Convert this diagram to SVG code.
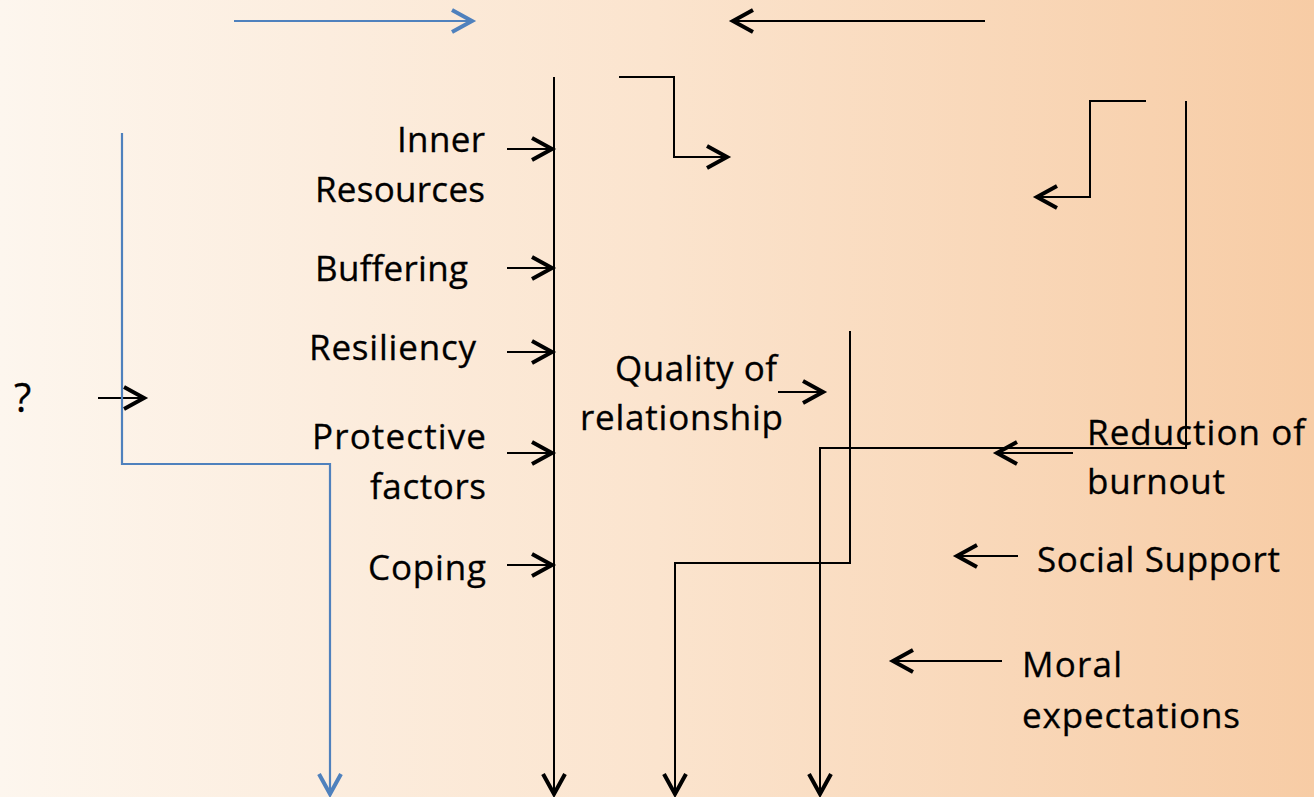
<svg xmlns="http://www.w3.org/2000/svg" width="1314" height="797" viewBox="0 0 1314 797">
<defs>
<linearGradient id="bg" x1="0" y1="0" x2="1" y2="0">
<stop offset="0" stop-color="#fdf6ee"/>
<stop offset="0.5" stop-color="#fbe4ce"/>
<stop offset="1" stop-color="#f7cca5"/>
</linearGradient>
<marker id="ak" markerUnits="userSpaceOnUse" markerWidth="30" markerHeight="30" viewBox="-24 -15 30 30" refX="0" refY="0" orient="auto" overflow="visible">
<path d="M-20,-11 L0,0 L-20,11" fill="none" stroke="#000" stroke-width="4"/>
</marker>
<marker id="ab" markerUnits="userSpaceOnUse" markerWidth="30" markerHeight="30" viewBox="-24 -15 30 30" refX="0" refY="0" orient="auto" overflow="visible">
<path d="M-20,-11 L0,0 L-20,11" fill="none" stroke="#4f81bd" stroke-width="4"/>
</marker>
</defs>
<style>
.k{fill:none;stroke:#000;stroke-width:2}
.b{fill:none;stroke:#4f81bd;stroke-width:2.2}
.ka{marker-end:url(#ak)}
.ba{marker-end:url(#ab)}
text{font-family:"Open Sans","Noto Sans",sans-serif;font-size:35px;fill:#000;stroke:#000;stroke-width:0.3}
</style>
<rect width="1314" height="797" fill="url(#bg)"/>
<g id="connectors">
<line class="b ba" x1="234" y1="21" x2="472" y2="21"/>
<line class="k ka" x1="985" y1="21" x2="733" y2="21"/>
<line class="k ka" x1="554" y1="77" x2="554" y2="794"/>
<line class="k ka" x1="507" y1="149" x2="552" y2="149"/>
<line class="k ka" x1="507" y1="268" x2="552" y2="268"/>
<line class="k ka" x1="507" y1="352" x2="552" y2="352"/>
<line class="k ka" x1="507" y1="453" x2="552" y2="453"/>
<line class="k ka" x1="507" y1="565" x2="552" y2="565"/>
<line class="k ka" x1="98" y1="398" x2="144" y2="398"/>
<polyline class="b ba" points="122,133 122,464 330,464 330,794"/>
<polyline class="k ka" points="619,77 674,77 674,157 727,157"/>
<polyline class="k ka" points="1146,101 1090,101 1090,197 1037,197"/>
<polyline class="k ka" points="1186,101 1186,448 820,448 820,794"/>
<polyline class="k ka" points="850,331 850,563 675,563 675,794"/>
<line class="k ka" x1="778" y1="392" x2="823" y2="392"/>
<line class="k ka" x1="1073" y1="453" x2="997" y2="453"/>
<line class="k ka" x1="1018" y1="556" x2="957" y2="556"/>
<line class="k ka" x1="1002" y1="661" x2="893" y2="661"/>
</g>
<g id="n-question"><text x="14" y="412" style="font-size:40px">?</text></g>
<g id="n-inner"><text x="397" y="152" textLength="88">Inner</text><text x="315" y="202" textLength="170">Resources</text></g>
<g id="n-buffering"><text x="315" y="281" textLength="153">Buffering</text></g>
<g id="n-resiliency"><text x="309" y="360" textLength="167">Resiliency</text></g>
<g id="n-protective"><text x="312" y="449" textLength="174">Protective</text><text x="370" y="499" textLength="116">factors</text></g>
<g id="n-coping"><text x="368" y="580" textLength="118">Coping</text></g>
<g id="n-quality"><text x="615" y="381" textLength="162">Quality of</text><text x="580" y="430" textLength="203">relationship</text></g>
<g id="n-reduction"><text x="1087" y="445" textLength="218">Reduction of</text><text x="1087" y="494" textLength="138">burnout</text></g>
<g id="n-social"><text x="1037" y="572" textLength="243">Social Support</text></g>
<g id="n-moral"><text x="1022" y="677" textLength="100">Moral</text><text x="1022" y="728" textLength="218">expectations</text></g>
</svg>
